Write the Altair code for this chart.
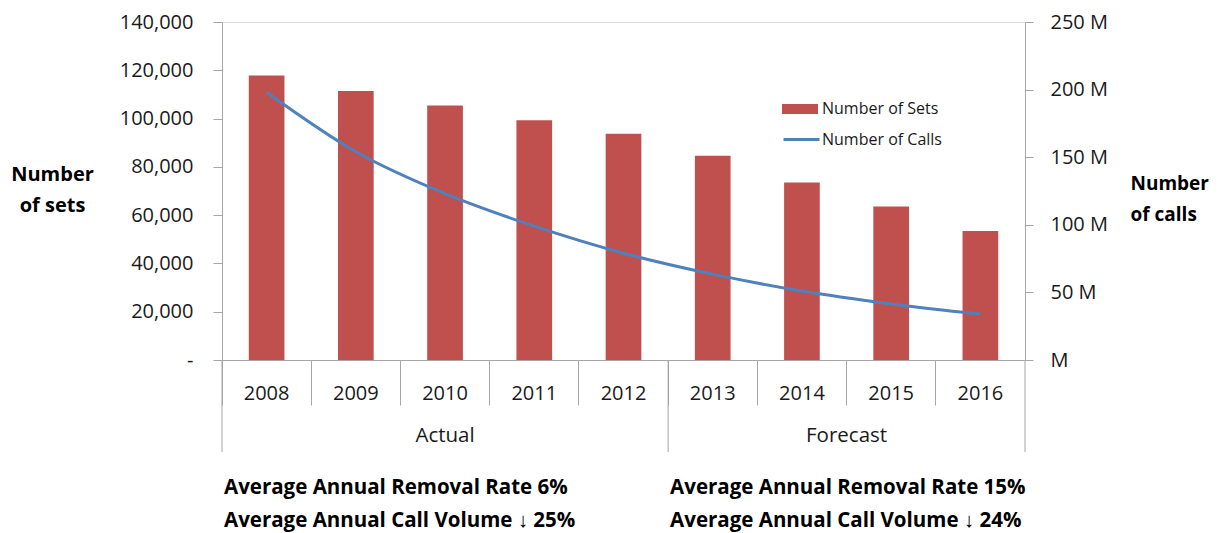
import altair as alt
import pandas as pd

years = ["2008", "2009", "2010", "2011", "2012", "2013", "2014", "2015", "2016"]
sets = [117800, 111400, 105400, 99300, 93700, 84600, 73500, 63600, 53400]
calls_m = [198, 154, 123, 99, 79, 63.5, 51, 41.5, 34]

left_ticks = [0, 20000, 40000, 60000, 80000, 100000, 120000, 140000]
right_ticks = [0, 50, 100, 150, 200, 250]

group_starts = ["2008", "2013"]
group_end = ["2016"]
group_labels = ["Actual", "Forecast"]
notes = [
    "Average Annual Removal Rate 6%\nAverage Annual Call Volume \u2193 25%",
    "Average Annual Removal Rate 15%\nAverage Annual Call Volume \u2193 24%",
]

FONT = "Open Sans"
GREY = "#a6a6a6"
TXT = "#1a1a1a"
W, H = 803, 338

df = pd.DataFrame({"year": years, "sets": sets, "calls": calls_m,
                   "s1": "Number of Sets", "s2": "Number of Calls"})
starts_df = pd.DataFrame({"year": group_starts, "note": notes})
end_df = pd.DataFrame({"year": group_end})
actual_df = pd.DataFrame({"year": ["2010"], "label": [group_labels[0]]})
fore_df = pd.DataFrame({"year": ["2015"], "label": [group_labels[1]]})

x_scale = alt.Scale(paddingInner=0, paddingOuter=0)
x_axis = alt.Axis(title=None, labelAngle=0, bandPosition=0, tickSize=45,
                  tickColor=GREY, domainColor=GREY, labelPadding=-22,
                  labelBaseline="top", labelFontSize=20, labelFont=FONT,
                  labelColor=TXT)

def X(bp=None):
    if bp is None:
        return alt.X("year:N", scale=x_scale, axis=x_axis)
    return alt.X("year:N", scale=x_scale, axis=x_axis, bandPosition=bp)

bars = alt.Chart(df).mark_bar(width=alt.RelativeBandSize(0.4)).encode(
    x=X(),
    y=alt.Y("sets:Q", scale=alt.Scale(domain=[0, 140000], nice=False),
            axis=alt.Axis(values=left_ticks, grid=False, tickSize=9,
                          labelPadding=20, tickColor=GREY, domainColor=GREY,
                          labelExpr="datum.value == 0 ? '-' : format(datum.value, ',')",
                          labelFontSize=20, labelFont=FONT, labelColor=TXT,
                          title=["Number", "of sets"], titleAngle=0,
                          titleX=-170, titleY=142, titleAlign="center",
                          titleBaseline="top", titleFontWeight="bold",
                          titleFontSize=20, titleFont=FONT, titleColor="#000000",
                          titleLineHeight=31)),
    color=alt.Color("s1:N", scale=alt.Scale(domain=["Number of Sets"], range=["#C0504D"]),
                    legend=alt.Legend(title=None, orient="none", legendX=560, legendY=69,
                                      symbolType="M-1,-0.28H1V0.28H-1Z", symbolSize=1296,
                                      symbolStrokeWidth=0, labelOffset=4, padding=0,
                                      labelFontSize=16, labelFont=FONT, labelColor=TXT)),
)

line = alt.Chart(df).mark_line(strokeWidth=3, interpolate="monotone").encode(
    x=X(),
    y=alt.Y("calls:Q", scale=alt.Scale(domain=[0, 250], nice=False),
            axis=alt.Axis(orient="right", values=right_ticks, grid=False, tickSize=8,
                          labelPadding=17, tickColor=GREY, domainColor=GREY,
                          labelExpr="datum.value == 0 ? '\u00a0\u00a0M' : datum.value + ' M'",
                          labelFontSize=20, labelFont=FONT, labelColor=TXT,
                          title=["Number", "of calls"], titleAngle=0,
                          titleX=105, titleY=152, titleAlign="left",
                          titleBaseline="top", titleFontWeight="bold",
                          titleFontSize=19, titleFont=FONT, titleColor="#000000",
                          titleLineHeight=31)),
    stroke=alt.Stroke("s2:N", scale=alt.Scale(domain=["Number of Calls"], range=["#4F81BD"]),
                      legend=alt.Legend(title=None, orient="none", legendX=560, legendY=98,
                                        symbolType="stroke", symbolSize=1296,
                                        symbolStrokeWidth=3, labelOffset=1, padding=0,
                                        labelFontSize=16, labelFont=FONT, labelColor=TXT)),
)

rule_start = alt.Chart(starts_df).mark_rule(color=GREY, strokeWidth=1).encode(
    x=X(0), y=alt.value(H), y2=alt.value(H + 92))
rule_end = alt.Chart(end_df).mark_rule(color=GREY, strokeWidth=1).encode(
    x=X(1), y=alt.value(H), y2=alt.value(H + 92))

lab_actual = alt.Chart(actual_df).mark_text(fontSize=20.5, font=FONT, color=TXT).encode(
    x=X(0.5), y=alt.value(H + 76), text="label:N")
lab_fore = alt.Chart(fore_df).mark_text(fontSize=20.5, font=FONT, color=TXT).encode(
    x=X(0), y=alt.value(H + 76), text="label:N")

note_text = alt.Chart(starts_df).mark_text(
    fontSize=20.5, font=FONT, fontWeight="bold", color="#000000", align="left",
    baseline="middle", lineBreak="\n", lineHeight=33, dx=2).encode(
    x=X(0), y=alt.value(H + 128), text="note:N")

chart = alt.layer(bars, line, rule_start, rule_end, lab_actual, lab_fore, note_text).resolve_scale(
    y="independent", color="independent", stroke="independent"
).properties(
    width=W, height=H,
    autosize=alt.AutoSizeParams(type="none"),
    padding={"left": 214, "top": 14, "right": 186, "bottom": 185},
).configure_view(stroke=None).configure(font=FONT)

chart.save("out.html", embed_options={"renderer": "svg", "actions": False})
